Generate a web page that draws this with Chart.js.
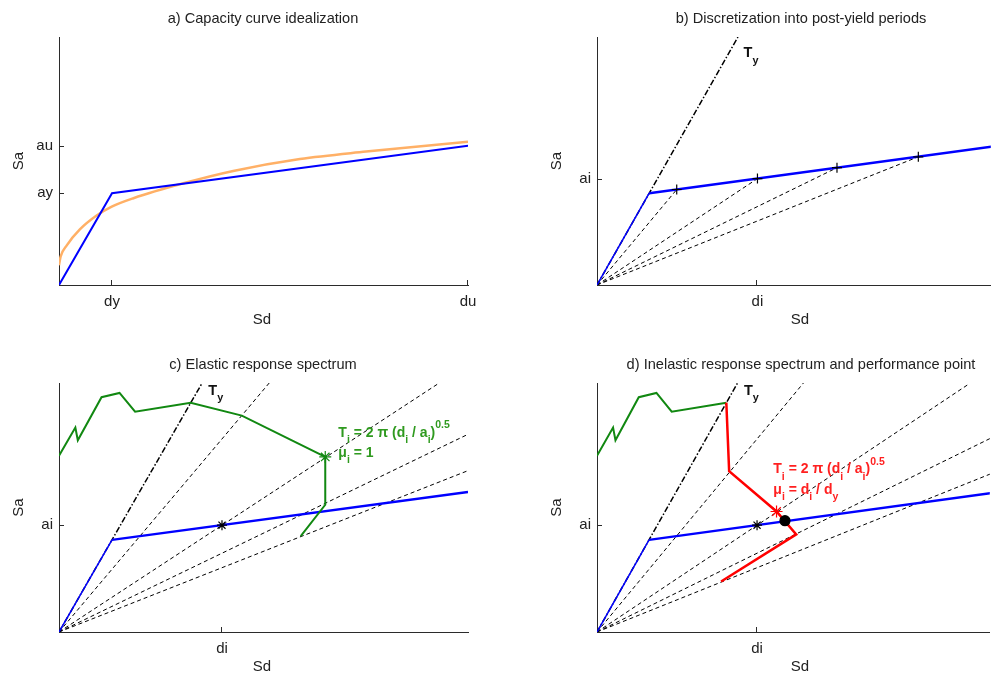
<!DOCTYPE html>
<html>
<head>
<meta charset="utf-8">
<script src="https://cdn.jsdelivr.net/npm/chart.js@4.4.1/dist/chart.umd.min.js"></script>
<style>
  body { margin: 0; background: #fff; }
  #wrap { position: relative; width: 997px; height: 675px; overflow: hidden; }
  canvas { position: absolute; }
</style>
</head>
<body>
<div id="wrap">
  <canvas id="panelA" width="490" height="337" style="left:0;top:0"></canvas>
  <canvas id="panelB" width="477" height="337" style="left:520px;top:0"></canvas>
  <canvas id="panelC" width="490" height="338" style="left:0;top:337px"></canvas>
  <canvas id="panelD" width="477" height="338" style="left:520px;top:337px"></canvas>
</div>
<script>
// --- data (Sd and Sa in normalised units) ---
const bilinearSd = [0, 0.1296, 1.0];
const bilinearSa = [0, 0.370, 0.562];

const capacitySd = [0, 0.004, 0.019, 0.051, 0.092, 0.129, 0.182, 0.304, 0.426, 0.589, 0.751, 1.0];
const capacitySa = [0.08, 0.115, 0.160, 0.224, 0.280, 0.316, 0.350, 0.410, 0.460, 0.508, 0.538, 0.578];

const tyLineSd = [0, 0.350];
const tyLineSa = [0, 1.0];

// post-yield discretisation points on the bilinear curve
const periodSd = [0.198, 0.3985, 0.596, 0.798];
const periodSa = [0.385, 0.429, 0.473, 0.517];
// where the period lines leave the axes in panels c and d
const periodEndSd = [0.514, 0.925, 1.0, 1.0];
const periodEndSa = [1.0, 0.995, 0.794, 0.648];

// elastic response spectrum
const elasticSd = [0, 0.040, 0.046, 0.104, 0.148, 0.186, 0.322, 0.447, 0.651, 0.651, 0.591];
const elasticSa = [0.708, 0.821, 0.770, 0.943, 0.960, 0.885, 0.921, 0.869, 0.703, 0.511, 0.385];

// inelastic response spectrum
const inelasticSd = [0.322, 0.329, 0.447, 0.496, 0.309];
const inelasticSa = [0.921, 0.646, 0.484, 0.392, 0.203];

const elasticStarSd = [0.651], elasticStarSa = [0.703];
const inelasticStarSd = [0.447], inelasticStarSa = [0.484];
const perfPointSd = [0.468], perfPointSa = [0.447];
const diPointSd = [0.3985], diPointSa = [0.429];

// tick labels
const ticksA_x = [0.1296, 1.0], ticksA_xLabels = ['dy', 'du'];
const ticksA_y = [0.370, 0.562], ticksA_yLabels = ['ay', 'au'];
const ticksI_x = [0.3985], ticksI_xLabels = ['di'];
const ticksI_y = [0.429], ticksI_yLabels = ['ai'];

const FONT = '"Liberation Sans", Arial, Helvetica, sans-serif';
const AXIS = '#2b2b2b';
const BLUE = '#0000ff', GREEN = '#118811', RED = '#ff0000', ORANGE = '#ffb066';

Chart.defaults.font.family = FONT;

const pts = (xs, ys) => xs.map((x, i) => ({ x: x, y: ys[i] }));

// period lines: origin -> point, with gaps between them
function rays(xs, ys) {
    const out = [];
    xs.forEach((x, i) => { out.push({ x: 0, y: 0 }, { x: x, y: ys[i] }, { x: x, y: null }); });
    return out;
}

function line(data, color, width, dash) {
    return { data, showLine: true, borderColor: color, borderWidth: width, borderDash: dash || [],
             pointRadius: 0, tension: 0, fill: false, spanGaps: false };
}
function marker(data, style, color, radius, filled) {
    return { data, showLine: false, pointStyle: style, pointRadius: radius, borderColor: color,
             backgroundColor: filled ? color : 'transparent', pointBorderWidth: 1.2 };
}

// draw a text with sub/superscripts, parts: [{t, sub, sup}]
function drawRich(ctx, x0, y0, parts, color, size) {
    let cx = x0;
    ctx.fillStyle = color;
    ctx.textAlign = 'left';
    ctx.textBaseline = 'alphabetic';
    parts.forEach(p => {
        const s = (p.sub || p.sup) ? size * 0.75 : size;
        ctx.font = `bold ${s}px ${FONT}`;
        const dy = p.sub ? size * 0.45 : p.sup ? -size * 0.6 : 0;
        ctx.fillText(p.t, cx, y0 + dy);
        cx += ctx.measureText(p.t).width;
    });
}

const decor = {
    id: 'decor',
    afterDraw(chart, args, o) {
        const { ctx, chartArea: a, scales: { x, y } } = chart;
        ctx.save();
        // inward tick marks
        ctx.strokeStyle = AXIS;
        ctx.lineWidth = 1;
        ctx.beginPath();
        x.ticks.forEach(t => {
            const px = Math.round(x.getPixelForValue(t.value)) - 0.5;
            ctx.moveTo(px, a.bottom); ctx.lineTo(px, a.bottom - 5);
        });
        y.ticks.forEach(t => {
            const py = Math.round(y.getPixelForValue(t.value)) + 0.5;
            ctx.moveTo(a.left, py); ctx.lineTo(a.left + 5, py);
        });
        ctx.stroke();

        // title and axis labels
        const cx = a.left + 204;
        ctx.fillStyle = '#222';
        ctx.textAlign = 'center';
        ctx.textBaseline = 'middle';
        ctx.font = `14.6px ${FONT}`;
        ctx.fillText(o.title, cx, a.top - 18);
        ctx.font = `15px ${FONT}`;
        ctx.fillText('Sd', cx - 1, a.bottom + 35);
        ctx.save();
        ctx.translate(a.left - 40, (a.top + a.bottom) / 2);
        ctx.rotate(-Math.PI / 2);
        ctx.fillText('Sa', 0, 0);
        ctx.restore();

        (o.notes || []).forEach(n => {
            drawRich(ctx, x.getPixelForValue(n.x), y.getPixelForValue(n.y), n.parts, n.color, n.size);
        });
        ctx.restore();
    }
};

function makePanel(id, cfg) {
    const canvas = document.getElementById(id);
    const H = canvas.height;
    new Chart(canvas, {
        type: 'scatter',
        data: { datasets: cfg.datasets },
        options: {
            responsive: false,
            animation: false,
            events: [],
            layout: { padding: { top: cfg.top, right: cfg.right, left: 0, bottom: 0 } },
            plugins: {
                legend: { display: false },
                tooltip: { enabled: false },
                decor: { title: cfg.title, notes: cfg.notes }
            },
            scales: {
                x: {
                    type: 'linear', min: 0, max: cfg.xMax,
                    grid: { display: false, drawTicks: false },
                    border: { display: true, color: AXIS, width: 1 },
                    afterBuildTicks: s => { s.ticks = cfg.xTicks.map(v => ({ value: v })); },
                    ticks: { callback: (v, i) => cfg.xLabels[i], autoSkip: false, maxRotation: 0,
                             padding: 8, color: '#222', font: { size: 15 } },
                    afterFit: s => { s.height = H - cfg.bottom; s.paddingLeft = 0; s.paddingRight = 0; }
                },
                y: {
                    type: 'linear', min: 0, max: 1,
                    grid: { display: false, drawTicks: false },
                    border: { display: true, color: AXIS, width: 1 },
                    afterBuildTicks: s => { s.ticks = cfg.yTicks.map(v => ({ value: v })); },
                    ticks: { callback: (v, i) => cfg.yLabels[i], autoSkip: false,
                             padding: 6, color: '#222', font: { size: 15 } },
                    afterFit: s => { s.width = cfg.left; s.paddingTop = 0; s.paddingBottom = 0; }
                }
            }
        },
        plugins: [decor]
    });
}

const tyNote = (x, y) => ({ x, y, color: '#111', size: 14.5, parts: [{ t: 'T' }, { t: 'y', sub: true }] });

const periodLinesFull = rays(periodEndSd, periodEndSa);

const capacityLine = line(pts(capacitySd, capacitySa), ORANGE, 2.5);
capacityLine.cubicInterpolationMode = 'monotone';

// a) Capacity curve idealization
makePanel('panelA', {
    title: 'a) Capacity curve idealization',
    top: 37, bottom: 285, left: 59, right: 22, xMax: 1.0,
    xTicks: ticksA_x, xLabels: ticksA_xLabels, yTicks: ticksA_y, yLabels: ticksA_yLabels,
    datasets: [
        line(pts(bilinearSd, bilinearSa), BLUE, 2),
        capacityLine
    ]
});

// b) Discretization into post-yield periods
makePanel('panelB', {
    title: 'b) Discretization into post-yield periods',
    top: 37, bottom: 285, left: 77, right: 0, xMax: 400 / 409,
    xTicks: ticksI_x, xLabels: ticksI_xLabels, yTicks: ticksI_y, yLabels: ticksI_yLabels,
    notes: [tyNote(0.364, 0.918)],
    datasets: [
        marker(pts(periodSd, periodSa), 'cross', '#000', 5),
        line(pts(bilinearSd.slice(1), bilinearSa.slice(1)), BLUE, 2.5),
        line(pts(bilinearSd.slice(0, 2), bilinearSa.slice(0, 2)), BLUE, 1.5),
        line(pts(tyLineSd, tyLineSa), '#000', 1.5, [6, 2, 1.5, 2]),
        line(rays(periodSd, periodSa), '#000', 1, [4, 3])
    ]
});

// c) Elastic response spectrum
makePanel('panelC', {
    title: 'c) Elastic response spectrum',
    top: 46, bottom: 295, left: 59, right: 22, xMax: 1.0,
    xTicks: ticksI_x, xLabels: ticksI_xLabels, yTicks: ticksI_y, yLabels: ticksI_yLabels,
    notes: [
        tyNote(0.365, 0.952),
        { x: 0.683, y: 0.784, color: '#2f9a1f', size: 14,
          parts: [{ t: 'T' }, { t: 'i', sub: true }, { t: ' = 2 π (d' }, { t: 'i', sub: true },
                  { t: ' / a' }, { t: 'i', sub: true }, { t: ')' }, { t: '0.5', sup: true }] },
        { x: 0.683, y: 0.704, color: '#2f9a1f', size: 14,
          parts: [{ t: 'μ' }, { t: 'i', sub: true }, { t: ' = 1' }] }
    ],
    datasets: [
        marker(pts(elasticStarSd, elasticStarSa), 'star', GREEN, 6),
        marker(pts(diPointSd, diPointSa), 'star', '#000', 5),
        line(pts(elasticSd, elasticSa), GREEN, 2),
        line(pts(bilinearSd.slice(1), bilinearSa.slice(1)), BLUE, 2.5),
        line(pts(bilinearSd.slice(0, 2), bilinearSa.slice(0, 2)), BLUE, 1.5),
        line(pts(tyLineSd, tyLineSa), '#000', 1.5, [6, 2, 1.5, 2]),
        line(periodLinesFull, '#000', 1, [4, 3])
    ]
});

// d) Inelastic response spectrum and performance point
makePanel('panelD', {
    title: 'd) Inelastic response spectrum and performance point',
    top: 46, bottom: 295, left: 77, right: 0, xMax: 400 / 409,
    xTicks: ticksI_x, xLabels: ticksI_xLabels, yTicks: ticksI_y, yLabels: ticksI_yLabels,
    notes: [
        tyNote(0.366, 0.952),
        { x: 0.439, y: 0.637, color: '#ff2020', size: 14,
          parts: [{ t: 'T' }, { t: 'i', sub: true }, { t: ' = 2 π (d' }, { t: 'i', sub: true },
                  { t: ' / a' }, { t: 'i', sub: true }, { t: ')' }, { t: '0.5', sup: true }] },
        { x: 0.439, y: 0.554, color: '#ff2020', size: 14,
          parts: [{ t: 'μ' }, { t: 'i', sub: true }, { t: ' = d' }, { t: 'i', sub: true },
                  { t: ' / d' }, { t: 'y', sub: true }] }
    ],
    datasets: [
        marker(pts(perfPointSd, perfPointSa), 'circle', '#000', 5, true),
        marker(pts(inelasticStarSd, inelasticStarSa), 'star', RED, 6),
        marker(pts(diPointSd, diPointSa), 'star', '#000', 5),
        line(pts(inelasticSd, inelasticSa), RED, 2.5),
        line(pts(elasticSd.slice(0, 7), elasticSa.slice(0, 7)), GREEN, 2),
        line(pts(bilinearSd.slice(1), bilinearSa.slice(1)), BLUE, 2.5),
        line(pts(bilinearSd.slice(0, 2), bilinearSa.slice(0, 2)), BLUE, 1.5),
        line(pts(tyLineSd, tyLineSa), '#000', 1.5, [6, 2, 1.5, 2]),
        line(periodLinesFull, '#000', 1, [4, 3])
    ]
});
</script>
</body>
</html>
